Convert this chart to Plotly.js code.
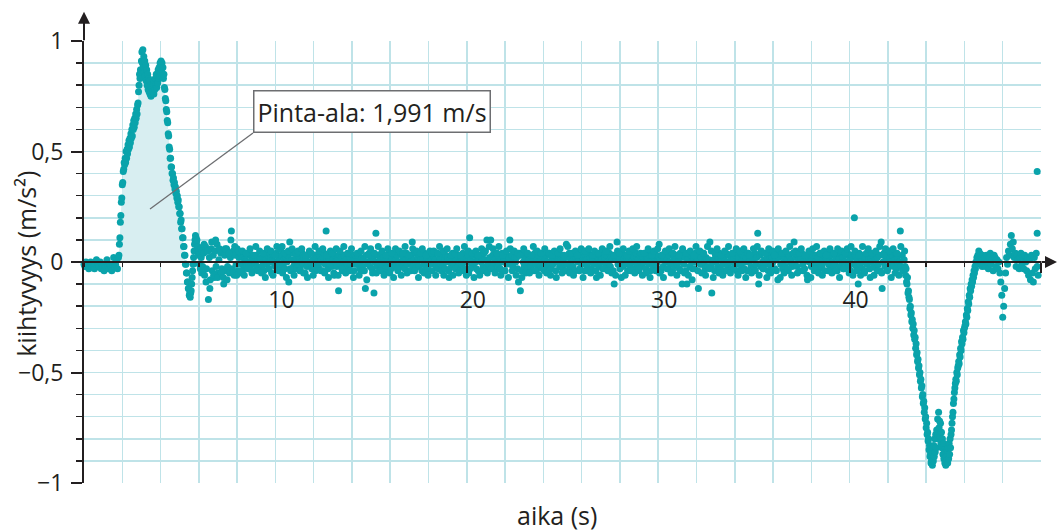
<!DOCTYPE html>
<html>
<head>
<meta charset="utf-8">
<script src="https://cdn.plot.ly/plotly-3.0.1.min.js"></script>
<style>html,body{margin:0;padding:0;background:#fff;}#chart{width:1059px;height:531px;}</style>
</head>
<body>
<div id="chart"></div>
<script>
// ---------- DATA (acceleration in m/s²) ----------
// segment A: rest before the start, sampled every 0.05 s from t = 0
const segA_t0 = 0, segA_dt = 0.05;
const segA = [-.01,-.02,0,-.02,-.01,-.03,-.01,0,-.02,-.01,
  -.02,-.03,-.01,.01,-.02,-.01,-.02,0,-.03,-.01,
  -.02,-.04,-.01,-.02,.01,-.02,-.03,-.01,-.02,-.04,
  -.01,.02,-.02,-.01,.01,-.03,.02];

// segment B: acceleration pulse, every 0.025 s from t = 1.825
const segB_t0 = 1.825, segB_dt = 0.025;
const segB = [
  .03,.08,.11,.18,.21,.27,.29,.35,
  .36,.41,.42,.45,.44,.47,.45,.5,
  .47,.51,.49,.53,.51,.55,.52,.56,
  .54,.58,.56,.6,.57,.62,.6,.64,
  .61,.65,.63,.67,.65,.69,.67,.71,
  .72,.77,.8,.85,.83,.87,.86,.91,
  .95,.9,.96,.88,.93,.86,.91,.84,
  .89,.82,.87,.8,.85,.78,.83,.77,
  .82,.76,.8,.75,.79,.76,.78,.77,
  .8,.76,.82,.78,.83,.8,.85,.79,
  .84,.81,.87,.83,.88,.84,.9,.86,
  .91,.87,.9,.84,.88,.83,.85,.79,
  .78,.74,.73,.69,.68,.64,.63,.58,
  .57,.52,.51,.47,.47,.43,.43,.4,
  .4,.37,.38,.35,.36,.33,.34,.31,
  .32,.29,.3,.27,.28,.25,.25,.22,
  .22,.18,.19,.15,.15,.11,.11,.07,
  .07,.03,.03,-.01,-.01,-.05,-.05,-.09,
  -.09,-.12,-.12,-.15,-.14,-.16,-.14,-.13,
  -.1,-.07,-.04,-.01,.02,.05,.08,.1,
  .12,.11,.09,.1,.06,.07,.03,.05,
  -.01,.04,-.03,.06,.02,-.05,.05,-.02];

// segment C: constant speed, every 0.05 s from t = 6.25
const segC_t0 = 6.25, segC_dt = 0.05;
const segC = [
  .04,-.06,.07,-.03,.05,-.17,.02,-.08,.06,-.04,.03,-.07,.05,-.02,.08,-.05,.01,-.06,.04,-.03,
  .05,-.1,.03,-.04,.06,-.02,.04,-.05,.02,.14,-.03,.05,-.06,.03,-.01,.06,-.04,.02,-.05,.04,
  -.01,.02,-.03,.01,0,-.02,.03,-.01,.04,-.02,.01,-.04,.02,0,-.01,.03,-.02,.01,-.03,.02,
  .01,-.02,0,-.04,.02,.01,-.01,.03,-.03,0,.02,-.05,.01,.03,-.01,-.02,.04,0,-.03,.02,
  -.01,.03,.07,-.02,.01,-.03,.02,0,.03,-.09,.09,-.04,.01,.04,-.02,0,-.03,.02,.04,-.01,
  .02,-.03,0,.04,-.01,.02,-.05,.01,-.02,.03,-.01,.04,0,-.03,.01,-.02,.03,-.04,.02,0,
  -.02,.03,0,.01,-.04,.02,.04,-.01,.14,.01,-.03,.02,-.01,.04,-.02,.01,-.05,.03,0,-.02,
  .01,-.13,.03,-.01,.02,-.04,0,.03,-.02,.01,-.01,.04,-.03,.02,-.01,0,.03,-.04,.01,-.01,
  .02,-.01,.04,-.03,0,.02,-.02,.01,-.04,-.12,.03,0,-.01,.04,-.02,.01,-.03,.02,-.14,0,
  .13,-.02,.03,0,.01,-.03,.04,-.01,.02,0,-.04,.03,-.02,.01,.04,0,-.03,.02,-.01,.03,
  -.02,.01,.03,-.04,0,-.01,.04,-.02,.02,0,-.03,.01,.04,-.01,.02,-.04,0,.03,.09,-.02,
  .01,-.03,.04,0,.02,-.02,.03,.01,-.04,.01,-.01,.04,-.02,.02,-.03,0,.03,-.01,.01,-.04,
  .03,0,.01,-.02,.04,-.03,0,.02,-.01,.04,-.02,-.06,.01,.03,0,.02,-.04,.01,0,-.02,
  .04,-.01,.02,-.03,.01,.03,-.02,0,-.04,.02,-.01,.04,.01,-.03,.02,0,.03,-.05,.11,.01,
  -.02,.03,-.01,.04,0,-.03,.02,-.04,.01,.03,0,.02,-.02,.04,.01,-.03,.1,0,-.01,.02,
  .1,-.02,.03,-.01,.01,-.04,.04,0,-.02,.02,-.03,.01,.04,0,.02,-.04,.03,-.01,0,.02,
  .1,-.01,.03,-.02,.01,.02,0,.02,-.03,-.09,.04,-.13,-.04,.03,0,-.02,.02,-.01,.04,-.03,
  .01,.03,-.02,0,-.04,.02,.04,-.01,.01,-.03,.03,0,-.02,.04,-.01,.02,-.04,.01,.03,0,
  -.02,.04,0,-.03,.02,-.01,.03,.01,-.04,.02,0,.04,-.02,.01,.03,-.03,0,.02,-.01,.08,
  -.01,.02,.04,-.03,0,.03,-.02,.01,-.04,.02,.04,0,.01,-.03,.03,-.01,.02,0,-.04,.03,
  .01,-.02,.04,0,.02,-.03,.03,.01,-.01,.04,-.04,0,.02,-.02,.03,0,.01,-.03,.04,.02,
  -.01,.03,-.03,0,.04,-.02,.02,.01,-.04,-.1,.03,.01,.09,-.01,.02,-.03,0,.04,-.02,.01,
  .03,-.01,.02,-.04,.01,.04,-.02,0,.03,-.03,.02,0,.04,-.01,.01,-.04,.03,0,-.02,.02,
  0,.04,-.03,.01,.02,-.01,.03,-.04,0,.04,-.02,.02,-.01,.03,0,-.03,.08,.01,-.04,.03,
  -.02,.01,.04,0,.02,-.03,.03,0,-.01,.04,-.04,.02,-.02,.01,.03,-.01,0,-.03,.04,.02,
  -.1,.03,-.01,.02,-.04,-.1,.01,.04,-.02,.03,0,-.03,.02,-.03,.04,0,.01,-.12,.03,-.01,
  .02,-.01,.04,0,-.03,.02,.01,-.02,.01,.09,-.02,-.14,0,.01,-.04,.03,0,-.02,.02,.04,
  -.03,.01,.03,-.01,.02,-.04,.04,0,-.02,.03,0,.01,-.03,.04,.02,-.01,.03,-.04,0,.02,
  -.01,.04,-.02,.01,.03,-.03,0,.02,-.04,.04,0,.01,-.02,.03,.01,-.03,.04,-.01,.02,.13,
  -.1,.03,-.02,.04,0,-.03,.01,.04,-.01,.02,-.04,.03,0,-.02,.02,0,.04,-.03,.01,.03,
  -.08,.02,.04,-.01,.03,-.03,0,.02,-.02,.04,.01,-.04,.03,0,.01,-.02,.04,.09,-.01,.02,
  -.02,.03,.01,-.04,.02,.04,-.01,0,-.03,.03,.01,-.08,.02,0,.04,-.02,.01,.03,-.04,0,
  .03,-.01,.02,-.03,.04,0,-.02,.01,.03,-.04,.02,0,.04,-.01,.01,-.03,.03,0,-.02,.04,
  -.01,.02,-.04,.03,.01,-.02,.04,0,.02,-.03,0,.03,-.01,.04,-.02,.01,-.04,.03,.02,-.01,
  .2,.03,-.02,.01,-.1,.04,-.01,.02,-.03,.03,0,-.04,.02,-.01,.04,.01,-.03,.02,0,.03,
  -.02,.04,.01,-.03,.02,-.01,.03,-.04,.09,-.12,0,.04,-.02,.01,.03,-.03,.02,0,.04,-.01,
  .03,-.02,.01,.04,-.03,.02,-.01,0,.14,-.02,.03,-.04,.01];

// segment C2: further readings of the same stretch, every 0.1 s from t = 6.275
const segC2_t0 = 6.275, segC2_dt = 0.1;
const segC2 = [
  .08,-.09,.05,-.12,.09,-.06,.1,-.07,.06,-.05,
  -.07,.06,-.08,.04,.1,-.05,.07,-.06,.05,-.04,
  .05,-.06,.04,-.03,.06,-.05,.03,.07,-.04,.05,
  -.05,.04,-.07,.06,-.03,.05,-.06,.03,.07,-.04,
  .06,-.05,.04,-.07,.05,-.03,.06,-.06,.04,.05,
  -.04,.06,-.05,.03,-.07,.05,.04,-.06,.07,-.03,
  .05,-.04,.06,-.05,.03,-.07,.05,.04,-.06,.06,
  -.06,.05,-.03,.07,-.05,.04,-.04,.06,-.07,.03,
  .04,-.06,.05,-.04,.07,-.08,.03,.06,-.05,.04,
  -.05,.07,-.04,.05,-.06,.03,.06,-.05,.04,-.07,
  .06,-.03,.05,-.06,.04,.07,-.05,.03,-.04,.06,
  -.04,.05,-.07,.04,.06,-.05,.03,-.06,.05,.04,
  .05,-.06,.04,.07,-.04,.05,-.03,.06,-.07,.03,
  -.06,.04,.06,-.05,.03,-.04,.07,-.06,.05,-.03,
  .04,-.07,.05,.03,-.06,.06,-.04,.05,-.05,.07,
  -.03,.06,-.05,.04,.07,-.06,.03,-.04,.05,-.07,
  .06,-.04,.05,-.06,.04,.03,-.07,.06,-.05,.04,
  -.05,.03,.07,-.04,.05,-.06,.04,-.03,.06,-.05,
  .04,-.06,.03,.05,-.07,.04,.06,-.05,.03,-.04,
  .07,-.05,.04,-.06,.05,.03,-.04,.06,-.07,.05,
  -.04,.06,-.05,.03,.05,-.07,.04,-.06,.06,-.03,
  .05,-.04,.07,-.05,.03,-.06,.05,.04,-.07,.06,
  -.06,.03,.05,-.04,.06,-.05,.07,-.03,.04,-.06,
  .04,-.05,.06,-.07,.03,.05,-.04,.06,-.05,.03,
  -.07,.05,-.03,.06,-.05,.04,.07,-.06,.03,-.04,
  .06,-.05,.04,-.06,.05,-.08,.03,.07,-.04,.05,
  -.05,.04,-.06,.07,-.03,.05,-.07,.04,.06,-.05,
  .03,-.06,.05,-.04,.07,-.05,.04,-.03,.06,-.06,
  .05,-.04,.06,-.07,.04,.03,-.05,.06,-.04,.07,
  -.06,.05,-.03,.04,-.07,.06,-.05,.05,.03,-.04,
  .06,-.07,.04,-.05,.05,-.03,.07,-.06,.04,.05,
  -.05,.04,.06,-.04,.03,-.06,.05,-.07,.06,-.03,
  .07,-.05,.04,-.06,.05,.03,-.04,.06,-.05,.04,
  -.04,.06,-.07,.05,-.03,.04,.06,-.05,.07,-.06,
  .05,-.04,.03,-.06,.07,-.05,.04,.06,-.07,.04,
  -.06,.05,-.04,.07,-.05,.03,.06,-.04,.05,-.07,
  .06,-.05,.04,-.06,.07,-.04,.05];

// segment D: braking, every 0.025 s from t = 42.9
const segD_t0 = 42.9, segD_dt = 0.025;
const segD = [
  -.02,-.06,-.03,-.09,-.1,-.07,-.14,-.13,-.16,-.17,-.21,
  -.2,-.24,-.23,-.27,-.26,-.3,-.28,-.33,-.31,-.35,-.34,-.39,-.37,-.42,
  -.41,-.45,-.44,-.48,-.47,-.51,-.5,-.54,-.53,-.57,
  -.56,-.61,-.6,-.64,-.63,-.68,-.66,-.71,-.7,-.75,
  -.73,-.78,-.77,-.81,-.8,-.85,-.83,-.88,-.87,-.91,-.9,
  -.86,-.92,-.84,-.9,-.83,-.88,-.8,-.86,-.78,-.84,-.76,-.8,-.71,-.78,-.68,-.75,-.72,-.79,-.73,-.82,
  -.77,-.84,-.8,-.87,-.82,-.89,-.85,-.91,-.86,-.92,-.88,-.9,-.85,-.91,-.84,-.89,-.82,-.87,-.8,-.84,-.78,
  -.76,-.73,-.7,-.68,-.64,-.62,-.59,-.57,-.55,-.53,-.54,-.5,-.51,-.48,
  -.47,-.45,-.46,-.42,-.43,-.39,-.4,-.36,-.37,-.34,-.35,-.31,-.32,-.3,
  -.29,-.27,-.28,-.24,-.25,-.21,-.22,-.18,-.19,-.15,-.16,-.12,-.13,-.1,-.11,-.08,-.09,-.06,
  -.07,-.04,-.05,-.02,-.03,0,-.01,.02,.01,.03,.02,.05,.03,.04,
  .01,.03,-.01,.02,-.02,.03,.01,-.01];

// segment E: standing still again, every 0.05 s from t = 47.05
const segE_t0 = 47.05, segE_dt = 0.05;
const segE = [.02,-.02,.03,0,-.03,.02,.04,-.01,.01,-.04,.03,.02,-.02,.01,-.03,0,-.05,
  -.09,-.15,-.25,-.2,-.12,-.05,.02,-.01,.05,.03,.08,.12,.06,.09,.02,.04,-.02,.03,.01,-.03,
  .02,.04,-.01,.02,-.03,.03,0,-.04,.02,-.06,.01,-.08,.03,-.05,-.09,.02,-.03,.04,-.02,-.06];

// last separate readings at the end of the recording
const endT = [49.8, 49.8, 49.8];
const endY = [0.41, 0.13, -1.05];

// tick labels
const xTickVals = [10, 20, 30, 40, 50];
const xTickText = ['10', '20', '30', '40', '50'];
const yTickVals = [-1, -0.5, 0, 0.5, 1];
const yTickText = ['\u22121', '\u22120,5', '0', '0,5', '1'];

const xTitle = 'aika (s)';
const yTitle = 'kiihtyvyys (m/s\u00b2)';
const areaLabel = 'Pinta-ala: 1,991 m/s';

// ---------- BUILD ----------
function times(t0, dt, vals) { return vals.map((v, i) => +(t0 + i * dt).toFixed(4)); }
const segs = [[segA_t0, segA_dt, segA], [segB_t0, segB_dt, segB], [segC_t0, segC_dt, segC],
              [segC2_t0, segC2_dt, segC2], [segD_t0, segD_dt, segD], [segE_t0, segE_dt, segE]];
let X = [], Y = [];
segs.forEach(s => { X = X.concat(times(s[0], s[1], s[2])); Y = Y.concat(s[2]); });
X = X.concat(endT); Y = Y.concat(endY);

// shaded area under the positive pulse
const bT = times(segB_t0, segB_dt, segB);
const fillX = [segA_t0 + (segA.length - 1) * segA_dt], fillY = [0];
for (let i = 0; i < segB.length; i++) {
  if (segB[i] < 0) break;
  fillX.push(bT[i]); fillY.push(segB[i]);
}

const DOT = '#0aa3ab', GRID = '#bfe3e8', INK = '#231f20';

const traces = [
  {x: fillX, y: fillY, type: 'scatter', mode: 'lines', fill: 'tozeroy',
   fillcolor: '#d8eef1', line: {width: 0, color: 'rgba(0,0,0,0)'}, hoverinfo: 'skip'},
  {x: X, y: Y, type: 'scatter', mode: 'markers', cliponaxis: false,
   marker: {size: 7, color: DOT}}
];

const layout = {
  width: 1059, height: 531,
  margin: {l: 84, r: 18, t: 41, b: 48},
  paper_bgcolor: '#fff', plot_bgcolor: '#fff',
  showlegend: false,
  font: {family: 'Open Sans, sans-serif', color: INK, size: 23},
  xaxis: {
    range: [0, 50], anchor: 'free', position: 0.5,
    showline: true, linecolor: INK, linewidth: 2,
    ticks: 'outside', ticklen: 10, tickwidth: 2, tickcolor: INK,
    tickmode: 'array', tickvals: xTickVals, ticktext: xTickText,
    tickfont: {size: 23, color: INK}, ticklabelshift: 6, ticklabelstandoff: 7,
    showgrid: true, gridcolor: GRID, gridwidth: 1.5, zeroline: false,
    minor: {dtick: 2, tick0: 0, ticks: 'outside', ticklen: 4, tickwidth: 1.5, tickcolor: INK,
            showgrid: true, gridcolor: GRID, gridwidth: 1.5},
    fixedrange: true
  },
  yaxis: {
    range: [-1, 1], showline: true, linecolor: INK, linewidth: 2,
    ticks: 'outside', ticklen: 11, tickwidth: 2, tickcolor: INK,
    tickmode: 'array', tickvals: yTickVals, ticktext: yTickText,
    tickfont: {size: 23, color: INK}, ticklabelstandoff: 3,
    showgrid: true, gridcolor: GRID, gridwidth: 1.5, zeroline: false,
    minor: {dtick: 0.1, tick0: 0, ticks: 'outside', ticklen: 6, tickwidth: 1.5, tickcolor: INK,
            showgrid: true, gridcolor: GRID, gridwidth: 1.5},
    fixedrange: true
  },
  shapes: [
    {type: 'line', xref: 'x', yref: 'y', x0: 3.45, y0: 0.24, x1: 8.83, y1: 0.584,
     line: {color: '#6d6e71', width: 1.3}, layer: 'above'}
  ],
  annotations: [
    {x: 8.83, y: 0.584, xref: 'x', yref: 'y', xanchor: 'left', yanchor: 'bottom',
     text: areaLabel, showarrow: false, font: {size: 25, color: INK},
     bgcolor: '#fff', bordercolor: '#6d6e71', borderwidth: 1.5, borderpad: 3},
    {xref: 'paper', yref: 'paper', x: 0.494, y: -0.072, xanchor: 'center', yanchor: 'middle',
     text: xTitle, showarrow: false, font: {size: 25, color: INK}},
    {xref: 'paper', yref: 'paper', x: -0.06, y: 0.495, xanchor: 'center', yanchor: 'middle',
     text: yTitle, textangle: -90, showarrow: false, font: {size: 25, color: INK}},
    {xref: 'paper', yref: 'paper', x: 0, y: 1.066, ax: 0, ay: 30, text: '',
     showarrow: true, arrowhead: 2, arrowsize: 1.2, arrowwidth: 2, arrowcolor: INK},
    {xref: 'paper', yref: 'paper', x: 1.0167, y: 0.5, ax: -17, ay: 0, text: '',
     showarrow: true, arrowhead: 2, arrowsize: 1.2, arrowwidth: 2, arrowcolor: INK}
  ]
};

Plotly.newPlot('chart', traces, layout, {displayModeBar: false, staticPlot: true});
</script>
</body>
</html>
